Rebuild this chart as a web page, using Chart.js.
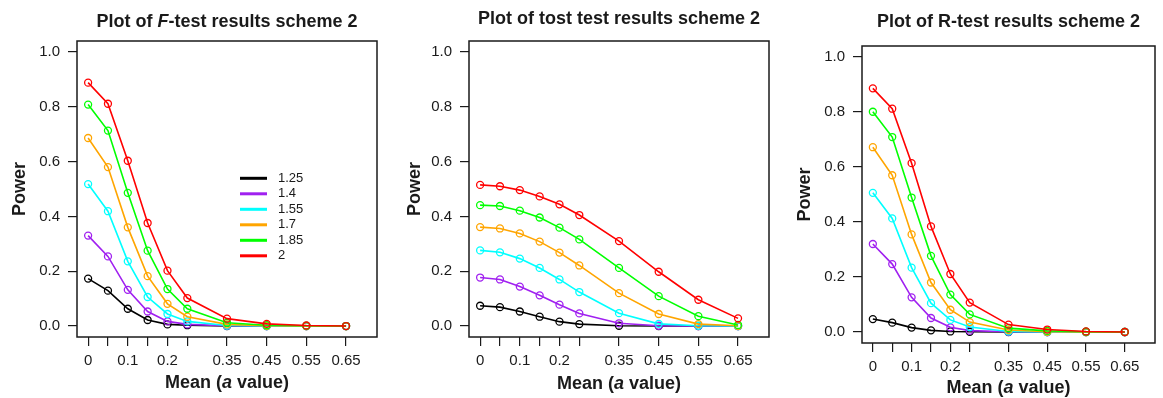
<!DOCTYPE html>
<html>
<head>
<meta charset="utf-8">
<script src="https://cdn.jsdelivr.net/npm/chart.js@4"></script>
<style>
  body { margin: 0; background: #fff; }
  #wrap { position: relative; width: 1163px; height: 398px; background: #fff; }
  canvas { position: absolute; top: 0; }
</style>
</head>
<body>
<div id="wrap">
  <canvas id="c1" width="390" height="398" style="left:0px"></canvas>
  <canvas id="c2" width="390" height="398" style="left:390px"></canvas>
  <canvas id="c3" width="383" height="398" style="left:780px"></canvas>
</div>
<script>
// x values (mean, a value) and the tick labels shown under them
const xValues = [0, 0.05, 0.1, 0.15, 0.2, 0.25, 0.35, 0.45, 0.55, 0.65];
const xTickLabels = ['0', '', '0.1', '', '0.2', '', '0.35', '0.45', '0.55', '0.65'];
const yTicks = [0, 0.2, 0.4, 0.6, 0.8, 1.0];

const seriesLabels = ['1.25', '1.4', '1.55', '1.7', '1.85', '2'];
const seriesColors = ['#000000', '#A020F0', '#00FFFF', '#FFA500', '#00FF00', '#FF0000'];

// F-test power
const fTest125 = [0.173, 0.129, 0.063, 0.022, 0.006, 0.003, 0.000, 0.000, 0.000, 0.000];
const fTest140 = [0.330, 0.254, 0.132, 0.053, 0.017, 0.006, 0.001, 0.000, 0.000, 0.000];
const fTest155 = [0.518, 0.419, 0.236, 0.106, 0.044, 0.017, 0.002, 0.000, 0.000, 0.000];
const fTest170 = [0.686, 0.580, 0.360, 0.182, 0.081, 0.034, 0.006, 0.001, 0.000, 0.000];
const fTest185 = [0.808, 0.713, 0.486, 0.275, 0.135, 0.063, 0.012, 0.003, 0.001, 0.000];
const fTest200 = [0.888, 0.811, 0.603, 0.376, 0.202, 0.102, 0.027, 0.008, 0.002, 0.000];

// tost test power
const tost125 = [0.074, 0.069, 0.053, 0.034, 0.016, 0.007, 0.001, 0.000, 0.000, 0.000];
const tost140 = [0.177, 0.170, 0.144, 0.112, 0.078, 0.046, 0.010, 0.001, 0.000, 0.000];
const tost155 = [0.276, 0.269, 0.246, 0.212, 0.170, 0.124, 0.047, 0.008, 0.001, 0.000];
const tost170 = [0.361, 0.356, 0.338, 0.308, 0.268, 0.221, 0.120, 0.044, 0.007, 0.001];
const tost185 = [0.441, 0.438, 0.421, 0.396, 0.359, 0.316, 0.212, 0.109, 0.036, 0.004];
const tost200 = [0.515, 0.510, 0.496, 0.473, 0.444, 0.405, 0.310, 0.198, 0.096, 0.028];

// R-test power
const rTest125 = [0.047, 0.034, 0.016, 0.006, 0.002, 0.001, 0.000, 0.000, 0.000, 0.000];
const rTest140 = [0.320, 0.247, 0.126, 0.051, 0.017, 0.005, 0.001, 0.000, 0.000, 0.000];
const rTest155 = [0.506, 0.413, 0.234, 0.105, 0.044, 0.018, 0.002, 0.000, 0.000, 0.000];
const rTest170 = [0.672, 0.570, 0.355, 0.180, 0.081, 0.036, 0.007, 0.001, 0.000, 0.000];
const rTest185 = [0.801, 0.709, 0.489, 0.277, 0.136, 0.064, 0.014, 0.004, 0.001, 0.000];
const rTest200 = [0.886, 0.812, 0.614, 0.384, 0.211, 0.107, 0.027, 0.009, 0.002, 0.000];

const FONT = '"Liberation Sans", Arial, Helvetica, sans-serif';
const INK = '#1a1a1a';

// draws a line of text made of plain / italic pieces, centred on cx
function drawRich(ctx, parts, cx, cy) {
    let total = 0;
    parts.forEach(p => {
        ctx.font = (p.italic ? 'italic ' : '') + 'bold 18px ' + FONT;
        p.w = ctx.measureText(p.text).width;
        total += p.w;
    });
    let x = cx - total / 2;
    ctx.textAlign = 'left';
    ctx.textBaseline = 'middle';
    ctx.fillStyle = INK;
    parts.forEach(p => {
        ctx.font = (p.italic ? 'italic ' : '') + 'bold 18px ' + FONT;
        ctx.fillText(p.text, x, cy);
        x += p.w;
    });
}

const framePlugin = {
    id: 'frame',
    afterDraw(chart, args, opts) {
        const { ctx, chartArea: a } = chart;
        ctx.save();
        ctx.strokeStyle = INK;
        ctx.lineWidth = 1.5;
        ctx.strokeRect(a.left, a.top, a.right - a.left, a.bottom - a.top);
        const cx = (a.left + a.right) / 2;
        drawRich(ctx, opts.title, cx, a.top - opts.titleGap);
        drawRich(ctx, [{ text: 'Mean (' }, { text: 'a', italic: true }, { text: ' value)' }], cx, a.bottom + opts.xTitleGap);

        if (opts.legend) {
            const lx = 240, ly = 178.3, step = 15.5;
            chart.data.datasets.forEach((ds, i) => {
                const y = ly + i * step;
                ctx.strokeStyle = ds.borderColor;
                ctx.lineWidth = 3;
                ctx.beginPath();
                ctx.moveTo(lx, y);
                ctx.lineTo(lx + 27, y);
                ctx.stroke();
                ctx.fillStyle = INK;
                ctx.font = '13px ' + FONT;
                ctx.textAlign = 'left';
                ctx.textBaseline = 'middle';
                ctx.fillText(ds.label, lx + 38, y);
            });
        }
        ctx.restore();
    }
};

function makePanel(id, series, box, titleParts, titleGap, xTitleGap, yTitlePad, legend) {
    const canvas = document.getElementById(id);
    const W = canvas.width, H = canvas.height;
    new Chart(canvas.getContext('2d'), {
        type: 'line',
        data: {
            datasets: series.map((vals, i) => ({
                label: seriesLabels[i],
                data: vals.map((v, j) => ({ x: xValues[j], y: v })),
                borderColor: seriesColors[i],
                backgroundColor: 'transparent',
                borderWidth: 1.6,
                pointRadius: 3.5,
                pointBorderWidth: 1.3,
                pointBackgroundColor: 'transparent',
                pointBorderColor: seriesColors[i],
                tension: 0,
                order: series.length - i
            }))
        },
        options: {
            responsive: false,
            animation: false,
            events: [],
            layout: { padding: { left: 0, top: box.top, right: W - box.right, bottom: 0 } },
            plugins: {
                legend: { display: false },
                tooltip: { enabled: false },
                frame: { title: titleParts, titleGap: titleGap, xTitleGap: xTitleGap, legend: legend }
            },
            scales: {
                x: {
                    type: 'linear',
                    min: -0.028,
                    max: 0.728,
                    afterBuildTicks: s => { s.ticks = xValues.map(v => ({ value: v })); },
                    afterFit: s => { s.height = H - box.bottom; },
                    ticks: {
                        autoSkip: false,
                        maxRotation: 0,
                        padding: 6,
                        color: INK,
                        font: { family: FONT, size: 15 },
                        callback: (v, i) => xTickLabels[i]
                    },
                    grid: { drawOnChartArea: false, drawTicks: true, tickLength: 9, color: INK, lineWidth: 1.2 },
                    border: { display: false }
                },
                y: {
                    min: -0.04,
                    max: 1.04,
                    afterBuildTicks: s => { s.ticks = yTicks.map(v => ({ value: v })); },
                    afterFit: s => { s.width = box.left; },
                    ticks: {
                        autoSkip: false,
                        padding: 8,
                        color: INK,
                        font: { family: FONT, size: 15 },
                        callback: v => v.toFixed(1)
                    },
                    grid: { drawOnChartArea: false, drawTicks: true, tickLength: 9, color: INK, lineWidth: 1.2 },
                    border: { display: false },
                    title: {
                        display: true,
                        text: 'Power',
                        color: INK,
                        font: { family: FONT, size: 18, weight: 'bold' },
                        padding: { top: yTitlePad, bottom: 0 }
                    }
                }
            }
        },
        plugins: [framePlugin]
    });
}

makePanel('c1', [fTest125, fTest140, fTest155, fTest170, fTest185, fTest200],
    { left: 77, right: 377, top: 41, bottom: 337 },
    [{ text: 'Plot of ' }, { text: 'F', italic: true }, { text: '-test results scheme 2' }],
    18.5, 46, 9, true);

makePanel('c2', [tost125, tost140, tost155, tost170, tost185, tost200],
    { left: 79, right: 379, top: 41, bottom: 337 },
    [{ text: 'Plot of tost test results scheme 2' }],
    22, 47, 14, false);

makePanel('c3', [rTest125, rTest140, rTest155, rTest170, rTest185, rTest200],
    { left: 82, right: 375, top: 46, bottom: 343 },
    [{ text: 'Plot of R-test results scheme 2' }],
    24, 45, 14, false);
</script>
</body>
</html>
